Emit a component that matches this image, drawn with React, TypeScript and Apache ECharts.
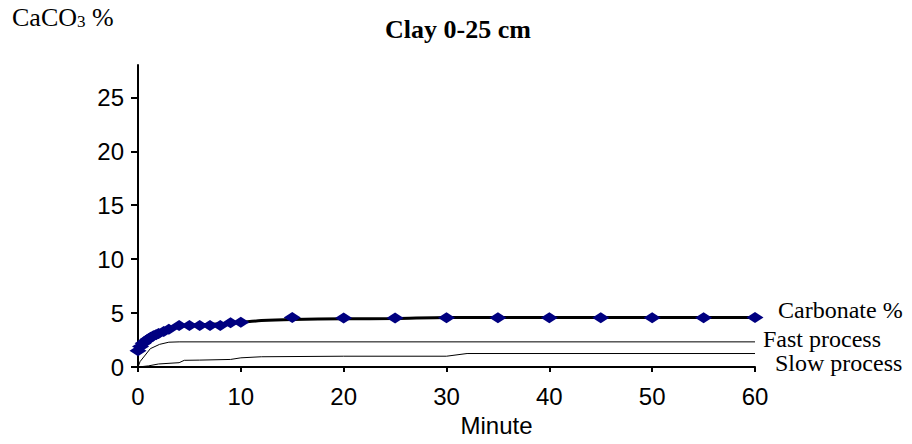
import React, { useEffect, useRef } from "react";
import * as echarts from "echarts";

const yTicks = [0, 5, 10, 15, 20, 25];

const measuredMin = [0, 0.25, 0.5, 0.75, 1, 1.25, 1.5, 1.75, 2, 2.5, 3, 4, 5, 6, 7, 8, 9, 10, 15, 20, 25, 30, 35, 40, 45, 50, 55, 60];
const measuredPct = [1.5, 1.9, 2.2, 2.4, 2.6, 2.75, 2.9, 3.0, 3.1, 3.3, 3.5, 3.85, 3.85, 3.85, 3.85, 3.85, 4.1, 4.15, 4.6, 4.55, 4.55, 4.57, 4.57, 4.57, 4.57, 4.57, 4.57, 4.6];

const fitMin = [0, 1, 2, 3, 4, 5, 6, 8, 10, 12, 15, 20, 25, 30, 60];
const fitPct = [1.5, 2.6, 3.1, 3.5, 3.75, 3.85, 3.9, 4.0, 4.15, 4.3, 4.4, 4.47, 4.5, 4.6, 4.6];

const fastMin = [0, 0.2, 1.2, 2.1, 3, 4, 60];
const fastPct = [0, 0.5, 1.7, 2.1, 2.3, 2.33, 2.33];

const slowMin = [0, 1, 2, 4, 4.5, 6, 9, 10, 12, 20, 30, 32, 60];
const slowPct = [0, 0.1, 0.28, 0.4, 0.62, 0.64, 0.7, 0.85, 0.95, 1.0, 1.0, 1.25, 1.25];

const zip = (a: number[], b: number[]) => a.map((v, i) => [v, b[i]]);

const serif = "'Liberation Serif', 'Times New Roman', serif";
const sans = "'Liberation Sans', Arial, sans-serif";

export default function App() {
  const ref = useRef<HTMLDivElement>(null);
  useEffect(() => {
    const chart = echarts.init(ref.current!, null, { renderer: "svg" });
    chart.setOption({
      animation: false,
      backgroundColor: "#fff",
      title: {
        text: "Clay 0-25 cm",
        left: 453,
        top: 11,
        textAlign: "center",
        textStyle: { fontFamily: serif, fontWeight: "bold", fontSize: 26, color: "#000" },
      },
      graphic: [
        {
          type: "text",
          left: 12,
          top: 4,
          style: {
            text: "{a|CaCO}{s|3}{a| %}",
            rich: {
              a: { fontFamily: serif, fontSize: 26, fill: "#000", verticalAlign: "bottom" },
              s: { fontFamily: serif, fontSize: 17, fill: "#000", padding: [9, 0, 0, 0], verticalAlign: "bottom" },
            },
          },
        },
      ],
      grid: { left: 138, right: 157, top: 65, bottom: 77, containLabel: false },
      xAxis: {
        type: "value",
        min: 0,
        max: 60,
        interval: 10,
        name: "Minute",
        nameLocation: "middle",
        nameGap: 46,
        nameTextStyle: { fontFamily: sans, fontSize: 24, color: "#000", verticalAlign: "top", padding: [0, 0, 0, 100] },
        axisLine: { show: true, lineStyle: { color: "#000", width: 2 } },
        axisTick: { show: true, length: 5, lineStyle: { color: "#000", width: 2 } },
        axisLabel: { fontFamily: sans, fontSize: 24, color: "#000", margin: 17 },
        splitLine: { show: false },
      },
      yAxis: {
        type: "value",
        min: 0,
        max: 28,
        axisLine: { show: true, lineStyle: { color: "#000", width: 2 } },
        axisTick: { show: true, length: 7, customValues: yTicks, lineStyle: { color: "#000", width: 2 } },
        axisLabel: { fontFamily: sans, fontSize: 24, color: "#000", margin: 14, customValues: yTicks },
        splitLine: { show: false },
      },
      series: [
        {
          type: "line",
          data: zip(fastMin, fastPct),
          symbol: "none",
          lineStyle: { color: "#000", width: 1 },
          endLabel: {
            show: true,
            formatter: "Fast process",
            fontFamily: serif,
            fontSize: 24,
            color: "#000",
            distance: 8,
            offset: [0, -3],
          },
          z: 2,
        },
        {
          type: "line",
          data: zip(slowMin, slowPct),
          symbol: "none",
          lineStyle: { color: "#000", width: 1 },
          endLabel: {
            show: true,
            formatter: "Slow process",
            fontFamily: serif,
            fontSize: 24,
            color: "#000",
            distance: 20,
            offset: [0, 9],
          },
          z: 2,
        },
        {
          type: "line",
          data: zip(fitMin, fitPct),
          symbol: "none",
          smooth: 0.3,
          lineStyle: { color: "#000", width: 3 },
          endLabel: {
            show: true,
            formatter: "Carbonate %",
            fontFamily: serif,
            fontSize: 24,
            color: "#000",
            distance: 23,
            offset: [0, -7],
          },
          z: 3,
        },
        {
          type: "scatter",
          data: zip(measuredMin, measuredPct),
          symbol: "diamond",
          symbolSize: [17, 11],
          itemStyle: { color: "#000080", opacity: 1 },
          z: 4,
        },
      ],
    });
    return () => chart.dispose();
  }, []);
  return <div ref={ref} style={{ position: "absolute", left: 0, top: 0, width: 912, height: 444 }} />;
}
